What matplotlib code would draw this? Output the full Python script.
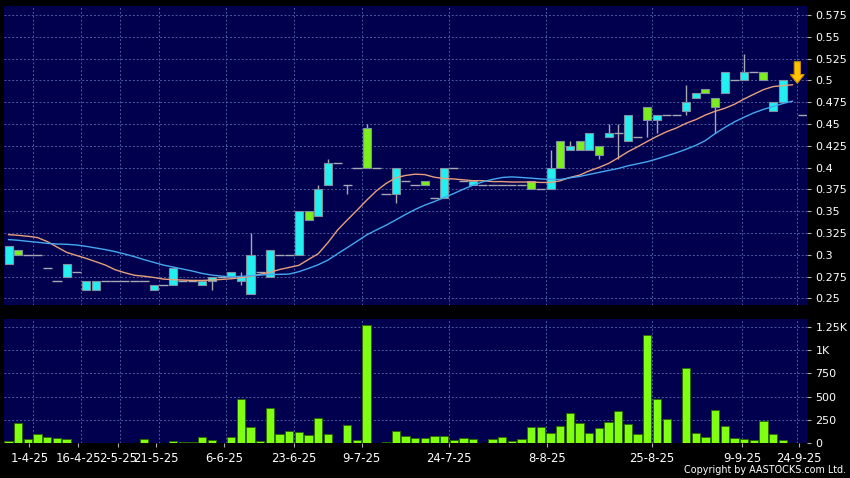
import numpy as np
import matplotlib
matplotlib.use("Agg")
import matplotlib.pyplot as plt
from matplotlib.patches import Rectangle, Polygon

nan = np.nan

# ---------------- data ----------------
open_ = [0.29, 0.305, 0.30, 0.30, 0.285, 0.27, 0.275, 0.28, 0.26, 0.26,
         0.27, 0.27, 0.27, 0.27, 0.27, 0.26, 0.265, 0.265, 0.27, 0.27,
         0.265, 0.27, 0.275, 0.275, 0.27, 0.255, 0.28, 0.275, 0.30, 0.30,
         0.30, 0.35, 0.345, 0.38, 0.405, 0.38, 0.40, 0.445, 0.40, 0.37,
         0.37, 0.385, 0.38, 0.385, 0.365, 0.365, 0.40, 0.385, 0.38, 0.38,
         0.38, 0.38, 0.38, 0.38, 0.385, 0.375, 0.375, 0.43, 0.42, 0.43,
         0.42, 0.425, 0.435, 0.44, 0.43, 0.435, 0.47, 0.455, 0.46, 0.46,
         0.465, 0.48, 0.49, 0.48, 0.485, 0.50, 0.50, 0.51, 0.51, 0.465,
         0.475, nan, 0.46]
high = [0.31, 0.305, 0.30, 0.30, 0.285, 0.27, 0.29, 0.28, 0.27, 0.27,
        0.27, 0.27, 0.27, 0.27, 0.27, 0.265, 0.265, 0.285, 0.27, 0.27,
        0.27, 0.275, 0.275, 0.28, 0.28, 0.325, 0.28, 0.305, 0.30, 0.30,
        0.35, 0.35, 0.38, 0.41, 0.405, 0.38, 0.40, 0.45, 0.40, 0.37,
        0.40, 0.385, 0.38, 0.385, 0.365, 0.40, 0.40, 0.385, 0.385, 0.38,
        0.38, 0.38, 0.38, 0.38, 0.385, 0.375, 0.42, 0.43, 0.43, 0.43,
        0.44, 0.425, 0.45, 0.45, 0.46, 0.435, 0.47, 0.46, 0.46, 0.46,
        0.495, 0.485, 0.49, 0.48, 0.51, 0.50, 0.53, 0.51, 0.51, 0.475,
        0.50, nan, 0.46]
low = [0.29, 0.30, 0.30, 0.30, 0.285, 0.27, 0.275, 0.28, 0.26, 0.26,
       0.27, 0.27, 0.27, 0.27, 0.27, 0.26, 0.265, 0.265, 0.27, 0.27,
       0.265, 0.26, 0.275, 0.275, 0.265, 0.255, 0.28, 0.275, 0.30, 0.30,
       0.30, 0.34, 0.345, 0.38, 0.405, 0.37, 0.40, 0.40, 0.40, 0.37,
       0.36, 0.385, 0.38, 0.38, 0.365, 0.365, 0.40, 0.385, 0.38, 0.38,
       0.38, 0.38, 0.38, 0.38, 0.375, 0.375, 0.375, 0.40, 0.42, 0.42,
       0.42, 0.41, 0.435, 0.41, 0.43, 0.435, 0.435, 0.44, 0.46, 0.46,
       0.46, 0.48, 0.485, 0.44, 0.485, 0.50, 0.50, 0.51, 0.50, 0.465,
       0.475, nan, 0.46]
close = [0.31, 0.30, 0.30, 0.30, 0.285, 0.27, 0.29, 0.28, 0.27, 0.27,
         0.27, 0.27, 0.27, 0.27, 0.27, 0.265, 0.265, 0.285, 0.27, 0.27,
         0.27, 0.275, 0.275, 0.28, 0.275, 0.30, 0.28, 0.305, 0.30, 0.30,
         0.35, 0.34, 0.375, 0.405, 0.405, 0.38, 0.40, 0.40, 0.40, 0.37,
         0.40, 0.385, 0.38, 0.38, 0.365, 0.40, 0.40, 0.385, 0.385, 0.38,
         0.38, 0.38, 0.38, 0.38, 0.375, 0.375, 0.40, 0.40, 0.425, 0.42,
         0.44, 0.415, 0.44, 0.44, 0.46, 0.435, 0.455, 0.46, 0.46, 0.46,
         0.475, 0.485, 0.485, 0.47, 0.51, 0.50, 0.51, 0.51, 0.50, 0.475,
         0.50, nan, 0.46]
volume = [25, 221, 50, 100, 71, 57, 43, 0, 0, 0,
          0, 0, 0, 0, 46, 0, 0, 21, 14, 18,
          64, 36, 4, 64, 475, 179, 29, 375, 96, 129,
          118, 86, 271, 100, 7, 200, 36, 1264, 7, 14,
          129, 79, 52, 54, 79, 75, 39, 54, 50, 0,
          46, 68, 25, 50, 175, 171, 111, 186, 321, 218,
          111, 164, 229, 343, 207, 96, 1157, 471, 257, 7,
          804, 107, 68, 357, 189, 61, 46, 32, 236, 100,
          36, 0, 0]
ma10 = [0.3232, 0.3224, 0.3213, 0.3198, 0.3152, 0.3090, 0.3029, 0.2994, 0.2960, 0.2922,
        0.2883, 0.2830, 0.2795, 0.2766, 0.2755, 0.2741, 0.2722, 0.2715, 0.2711, 0.2707,
        0.2707, 0.2711, 0.2718, 0.2726, 0.2738, 0.2753, 0.2778, 0.2800, 0.2832, 0.2856,
        0.2880, 0.2948, 0.3013, 0.3140, 0.3285, 0.3400, 0.3511, 0.3626, 0.3733, 0.3818,
        0.3883, 0.3910, 0.3925, 0.3920, 0.3890, 0.3875, 0.3870, 0.3860, 0.3850, 0.3850,
        0.3840, 0.3840, 0.3835, 0.3835, 0.3835, 0.3830, 0.3830, 0.3849, 0.3887, 0.3914,
        0.3963, 0.4002, 0.4048, 0.4113, 0.4182, 0.4239, 0.4301, 0.4359, 0.4412, 0.4454,
        0.4508, 0.4550, 0.4603, 0.4646, 0.4680, 0.4726, 0.4787, 0.4841, 0.4894, 0.4929,
        0.4940, 0.4950]
ma20 = [0.3175, 0.3167, 0.3155, 0.3144, 0.3132, 0.3124, 0.3121, 0.3113, 0.3098, 0.3079,
        0.3060, 0.3037, 0.3010, 0.2979, 0.2945, 0.2914, 0.2883, 0.2860, 0.2837, 0.2814,
        0.2787, 0.2768, 0.2756, 0.2749, 0.2753, 0.2761, 0.2768, 0.2775, 0.2776, 0.2780,
        0.2807, 0.2845, 0.2887, 0.2940, 0.3013, 0.3083, 0.3155, 0.3228, 0.3285, 0.3339,
        0.3400, 0.3462, 0.3520, 0.3570, 0.3611, 0.3657, 0.3703, 0.3753, 0.3799, 0.3837,
        0.3865, 0.3887, 0.3894, 0.3887, 0.3879, 0.3870, 0.3866, 0.3864, 0.3883, 0.3899,
        0.3922, 0.3945, 0.3968, 0.3990, 0.4021, 0.4044, 0.4068, 0.4100, 0.4135, 0.4170,
        0.4210, 0.4255, 0.4310, 0.4390, 0.4460, 0.4525, 0.4578, 0.4628, 0.4668, 0.4700,
        0.4735, 0.4762]
date_labels = ['1-4-25', '16-4-25', '2-5-25', '21-5-25', '6-6-25', '23-6-25',
               '9-7-25', '24-7-25', '8-8-25', '25-8-25', '9-9-25', '24-9-25']
price_ticks = [0.25, 0.275, 0.3, 0.325, 0.35, 0.375, 0.4, 0.425, 0.45, 0.475,
               0.5, 0.525, 0.55, 0.575]
vol_ticks = [0, 250, 500, 750, 1000, 1250]
vol_tick_labels = ['0', '250', '500', '750', '1K', '1.25K']

# ---------------- layout / style ----------------
label_pos = [2.15, 7.2, 11.3, 15.25, 22.3, 29.5, 36.5, 45.5, 55.6, 66.5, 75.8, 81.7]
vgrid_pos = [2.5, 7.5, 11.5, 15.5, 22.5, 29.5, 36.5, 45.5, 55.5, 66.5, 75.8, 81.5]
arrow_x, arrow_top, arrow_tip = 81.5, 0.5215, 0.4967

BG = '#00004f'
GRID = '#4d5c9c'
UP = '#22f0f0'
DOWN = '#7cf01c'
WICK = '#a8a8b0'
EDGE = '#8090a0'

plt.rcParams['font.family'] = ['DejaVu Sans']

W, H = 850, 478
fig = plt.figure(figsize=(W / 100, H / 100), dpi=100, facecolor='black')
ax = fig.add_axes([4 / W, 1 - 305 / H, 803 / W, 299 / H], facecolor=BG)
axv = fig.add_axes([4 / W, 1 - 443.3 / H, 803 / W, 124.3 / H], facecolor=BG, sharex=ax)

n = len(open_)
bw = 0.83
for i in range(n):
    o, h, l, c = open_[i], high[i], low[i], close[i]
    if np.isnan(o):
        continue
    if h > l:
        ax.vlines(i, l, h, color=WICK, lw=1.0, zorder=3)
    if o == c:
        ax.hlines(o, i - 0.48, i + 0.48, color=WICK, lw=1.0, zorder=3)
    else:
        col = UP if c > o else DOWN
        ax.add_patch(Rectangle((i - bw / 2, min(o, c)), bw, abs(c - o),
                               facecolor=col, edgecolor=EDGE, lw=0.8, zorder=4))

xm = np.arange(len(ma10))
ax.plot(xm, ma10, color='#e8a07c', lw=1.0, zorder=5)
ax.plot(xm, ma20, color='#45a8f0', lw=1.0, zorder=5)

# arrow marker
sw, hw, hl = 0.32, 0.72, 0.0100
ax.add_patch(Polygon([(arrow_x - sw, arrow_top), (arrow_x + sw, arrow_top),
                      (arrow_x + sw, arrow_tip + hl), (arrow_x + hw, arrow_tip + hl),
                      (arrow_x, arrow_tip), (arrow_x - hw, arrow_tip + hl),
                      (arrow_x - sw, arrow_tip + hl)],
                     closed=True, facecolor='#ffc400', edgecolor='#c88a00',
                     lw=0.8, zorder=7))

axv.bar(np.arange(len(volume)), volume, width=0.86, color='#80ff10',
        edgecolor='#2b6b00', linewidth=0.7, zorder=3)

ax.set_xlim(-0.47, 82.5)
ax.set_ylim(0.2425, 0.5853)
axv.set_ylim(0, 1332)

for a in (ax, axv):
    for s in a.spines.values():
        s.set_visible(False)
    a.yaxis.tick_right()
    a.tick_params(axis='y', colors='#b0b0b0', labelcolor='white', length=3,
                  width=0.8, pad=3, labelsize=8)
    for gx in vgrid_pos:
        a.axvline(gx, color=GRID, lw=0.7, ls=(0, (2, 2)), zorder=1)

ax.set_yticks(price_ticks)
ax.set_yticklabels(['%g' % t for t in price_ticks])
for t in price_ticks:
    ax.axhline(t, color=GRID, lw=0.7, ls=(0, (2, 2)), zorder=1)
ax.tick_params(axis='x', bottom=False, labelbottom=False)

axv.set_yticks(vol_ticks)
axv.set_yticklabels(vol_tick_labels)
for t in vol_ticks[1:]:
    axv.axhline(t, color=GRID, lw=0.7, ls=(0, (2, 2)), zorder=1)
axv.set_xticks(label_pos)
axv.set_xticklabels(date_labels)
axv.tick_params(axis='x', colors='#b0b0b0', labelcolor='white', length=3,
                width=0.8, pad=3, labelsize=8.4)

fig.text(846 / W, 1 - 470 / H, 'Copyright by AASTOCKS.com Ltd.', ha='right',
         va='center', color='white', fontsize=6.9)

fig.savefig('out.png', dpi=100, facecolor='black')
